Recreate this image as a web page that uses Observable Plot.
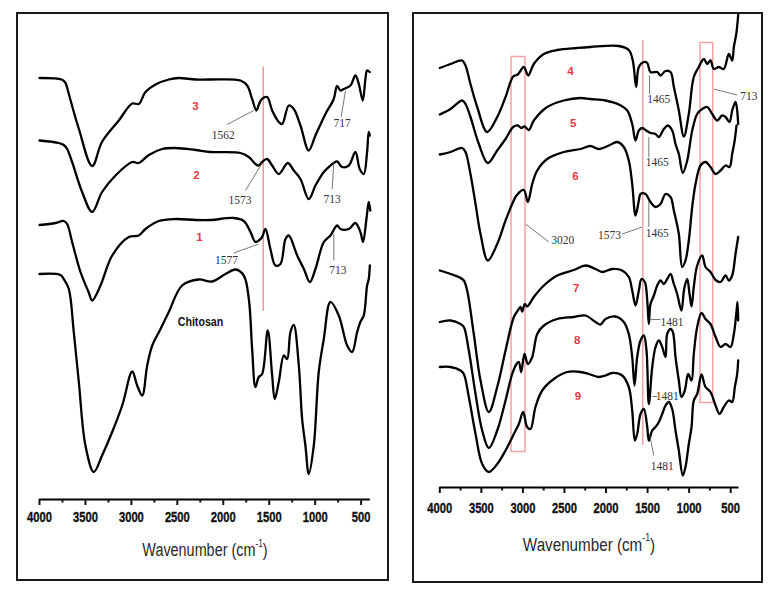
<!DOCTYPE html>
<html>
<head>
<meta charset="utf-8">
<script src="https://cdn.jsdelivr.net/npm/d3@7"></script>
<script src="https://cdn.jsdelivr.net/npm/@observablehq/plot@0.6"></script>
<style>
  body { margin: 0; background: #fff; }
  #page { position: relative; width: 778px; height: 595px; overflow: hidden; background: #fff; }
  .box { position: absolute; border: 2px solid #1a1a1a; box-sizing: border-box; }
  .plot { position: absolute; }
  .xtitle { position: absolute; font-family: 'Liberation Sans', Arial, sans-serif; color: #2a2a2a;
            white-space: nowrap; transform: translate(-50%, -50%) scaleX(0.8); }
  .xtitle sup { font-size: 58%; position: relative; top: -0.2em; vertical-align: super; line-height: 0; }
</style>
</head>
<body>
<div id="page">
  <div class="box" style="left:16px;top:12px;width:373px;height:569px;"></div>
  <div class="box" style="left:412px;top:12px;width:351px;height:571px;"></div>
  <div class="plot" id="left" style="left:17px;top:13px;"></div>
  <div class="plot" id="right" style="left:413px;top:13px;"></div>
  <div class="xtitle" style="left:205px;top:550px;font-size:18px;">Wavenumber (cm<sup>-1</sup>)</div>
  <div class="xtitle" style="left:589px;top:545px;font-size:19px;">Wavenumber (cm<sup>-1</sup>)</div>
</div>
<script>
// ---------- axis ticks ----------
const ticksMajor = [4000, 3500, 3000, 2500, 2000, 1500, 1000, 500];
const ticksMinor = [3750, 3250, 2750, 2250, 1750, 1250, 750];

// ---------- left panel spectra: [wavenumber, transmittance (a.u., offset)] ----------
const s3 = [[4000,84.3],[3760,84.0],[3720,83.4],[3700,82.4],[3685,81.4],[3573,74.2],[3427,66.7],[3320,71.5],[3137,75.8],[2991,79.2],[2920,79.1],[2847,81.5],[2738,83],[2593,84],[2487,84.3],[2302,84],[2140,84],[1813,83.8],[1740,82.8],[1686,80.1],[1640,77.8],[1610,79.1],[1580,80.1],[1523,80.5],[1468,77.8],[1396,75.5],[1359,75.1],[1287,78.8],[1233,78.1],[1160,74.8],[1070,69.8],[997,72.8],[888,77.1],[798,80.1],[761,82.7],[725,81.8],[689,82.1],[616,82.8],[562,84.8],[525,83.1],[482,79.8],[453,84.1],[435,85.8],[406,85.5]];
const s2 = [[4000,71.8],[3790,71.3],[3736,70.9],[3699,70.1],[3645,67.5],[3536,61.5],[3427,57.5],[3319,61.5],[3173,64.8],[2991,67.5],[2920,67.3],[2810,68.9],[2665,70.1],[2520,70.3],[2303,69.9],[2140,69.5],[1813,69.3],[1722,68.5],[1650,67.1],[1614,66.8],[1577,67.5],[1523,68.1],[1468,66.8],[1396,65.1],[1298,67.3],[1233,65.8],[1160,64.1],[1070,60.1],[997,62.8],[906,65.5],[834,66.8],[798,67.3],[761,67.6],[706,66.5],[634,66.8],[562,69.5],[515,66.1],[471,65.1],[435,69.5],[417,73.5],[406,72.8]];
const s1 = [[4000,54.9],[3826,55.3],[3736,55.7],[3699,55.1],[3645,51.5],[3554,45.5],[3464,41.4],[3427,39.8],[3336,42.8],[3209,48.8],[3028,52.5],[2920,52.8],[2847,54.1],[2702,55.7],[2520,56.1],[2303,55.9],[2140,55.9],[1886,56.3],[1777,55.7],[1704,53.5],[1650,51.5],[1614,51.8],[1577,52.5],[1541,54.1],[1487,50.1],[1432,46.8],[1378,47.1],[1323,52.1],[1287,52.8],[1196,48.8],[1123,46.1],[1058,43.5],[997,46.1],[906,51.5],[834,52.8],[761,54.8],[725,54.1],[634,54.1],[562,55.3],[508,53.5],[479,51.5],[442,56.1],[417,59.5],[400,57.8]];
const chitosan = [[4000,45.1],[3772,44.9],[3736,44.1],[3681,42.1],[3627,33.5],[3572,23.5],[3500,10.8],[3409,5.5],[3319,8.8],[3209,13.5],[3100,18.8],[2991,25.6],[2937,22.8],[2882,20.8],[2828,26.8],[2773,30.8],[2683,34.1],[2593,37.5],[2448,42.8],[2267,44],[2122,43.6],[1976,45.1],[1867,46],[1777,44.8],[1722,40.1],[1686,30.1],[1650,22.5],[1614,24.5],[1577,25.1],[1516,33.8],[1468,24.8],[1440,20.1],[1396,23.5],[1341,28.8],[1305,28.1],[1269,33.5],[1233,34.9],[1178,26.8],[1142,16.1],[1106,10.8],[1070,5.1],[1015,10.8],[961,25.5],[906,32.1],[834,39.5],[743,36.8],[652,30.8],[598,29.5],[543,33.5],[508,35.5],[471,36.8],[435,42.8],[417,44.1],[405,46.8]];

// ---------- right panel spectra ----------
const s4 = [[4000,83.9],[3871,84.7],[3731,85.4],[3691,84.4],[3631,80.7],[3550,76.1],[3430,71.1],[3309,74.1],[3209,78.1],[3117,82.2],[3061,82.6],[2989,84.1],[2936,82.4],[2869,84.7],[2748,86.7],[2587,87.5],[2347,87.9],[2187,88.1],[1846,88.3],[1726,87.5],[1678,85.4],[1637,80.1],[1605,84.1],[1545,85.1],[1504,84.9],[1465,83.1],[1384,83.1],[1344,82.4],[1284,83.3],[1224,83.1],[1184,80.1],[1124,75.4],[1064,70.2],[1004,74.7],[944,82.1],[884,84.1],[823,85.7],[783,84.7],[743,85.4],[703,83.7],[643,84.1],[583,83.7],[522,86.7],[482,85.4],[462,88.1],[433,90.7],[409,94.6]];
const s5 = [[4000,74.6],[3871,75.7],[3731,77.4],[3691,76.7],[3631,74.1],[3530,68.7],[3422,64.9],[3309,67.4],[3209,69.7],[3117,72.1],[3061,72.4],[3021,71.9],[2981,72.2],[2929,71.5],[2869,73.4],[2708,76.1],[2508,77.4],[2307,77.9],[2187,77.7],[2006,77.4],[1846,76.6],[1745,75.4],[1685,72.7],[1645,69.4],[1605,71.4],[1565,71.9],[1525,71.5],[1465,70.9],[1404,70.7],[1364,70.1],[1304,71.7],[1256,72.4],[1204,71.4],[1164,68.7],[1124,66.7],[1076,62.9],[1023,65.4],[963,71.4],[903,74.7],[843,75.7],[783,76.1],[722,74.7],[662,73.4],[602,74.4],[562,74.1],[514,73.1],[482,75.4],[442,77.1],[422,75.4],[410,72.7]];
const s6 = [[4000,66.6],[3871,67.1],[3731,67.9],[3691,67.1],[3631,62.7],[3570,56.7],[3510,50.7],[3422,45.4],[3309,48.7],[3209,53.4],[3129,56.7],[3077,58.4],[2989,59.5],[2941,57.1],[2888,60.7],[2828,63.4],[2708,65.7],[2508,67.1],[2307,67.7],[2187,68.3],[2087,67.7],[1966,68.4],[1866,69.1],[1786,68.1],[1726,65.4],[1685,60.7],[1645,54.4],[1605,57.4],[1585,58.7],[1525,58.7],[1465,57.1],[1404,56.1],[1344,56.7],[1284,58.7],[1224,58.1],[1184,55.4],[1124,50.7],[1084,44.1],[1044,45.4],[1004,49.4],[963,56.1],[923,60.7],[863,64.4],[803,65.1],[743,64.1],[682,62.7],[622,63.4],[562,64.4],[514,64.1],[482,66.7],[452,69.4],[430,72.4]];
const s7 = [[4000,43.4],[3871,42.7],[3771,42.1],[3711,41.4],[3671,39.4],[3591,30.7],[3510,21.4],[3410,15.1],[3309,20.1],[3209,27.4],[3109,34.1],[3061,35.4],[3029,36.1],[3009,35.2],[2977,36.7],[2949,36.2],[2869,38.1],[2748,40.4],[2587,42.4],[2387,43.5],[2247,44.4],[2126,43.7],[2046,43.1],[1926,43.7],[1806,43.4],[1726,42.1],[1685,39.4],[1645,36.4],[1605,39.4],[1573,41.7],[1533,41.1],[1504,37.4],[1485,32.7],[1465,36.7],[1424,38.4],[1384,40.4],[1344,41.4],[1304,40.7],[1264,41.7],[1224,42.7],[1184,40.7],[1144,38.7],[1092,35.4],[1060,39.7],[1023,41.7],[995,38.7],[971,36.2],[944,40.1],[903,44.4],[843,46.4],[803,44.1],[743,43.1],[682,41.5],[622,41.1],[562,42.4],[522,41.4],[482,42.4],[442,46.7],[410,50.1]];
const s8 = [[4000,33.1],[3871,33.4],[3751,32.7],[3711,32.1],[3651,27.4],[3570,18.7],[3490,11.4],[3410,7.9],[3309,11.4],[3209,17.4],[3129,22.7],[3077,24.7],[3049,25.1],[3021,23.1],[2981,26.7],[2941,24.7],[2888,26.1],[2828,30.7],[2748,32.4],[2587,33.7],[2387,34.1],[2247,34.4],[2126,33.1],[2066,32.6],[2006,33.7],[1886,34.2],[1786,33.1],[1726,30.7],[1685,26.1],[1657,20.4],[1625,26.1],[1585,29.4],[1545,30.4],[1513,27.4],[1485,16.7],[1444,24.1],[1404,28.1],[1364,29.4],[1324,28.1],[1284,26.1],[1264,30.7],[1224,31.7],[1196,31.1],[1164,26.1],[1124,21.4],[1092,18.1],[1052,19.4],[1012,22.7],[971,21.4],[944,26.7],[903,32.1],[851,34.9],[803,33.7],[743,32.7],[682,30.1],[622,28.1],[562,28.7],[502,28.1],[462,30.7],[433,34.7],[418,37.1],[410,33.4]];
const s9 = [[4000,24.1],[3871,24.1],[3751,23.4],[3711,22.7],[3651,18.1],[3570,10.7],[3490,4.7],[3410,3.1],[3309,4.7],[3209,7.4],[3109,10.7],[3049,12.7],[2997,15.1],[2949,12.1],[2909,11.7],[2849,16.1],[2768,19.4],[2628,21.7],[2467,23.1],[2307,23.1],[2207,22.7],[2087,22.1],[2006,22.4],[1926,22.9],[1806,22.4],[1726,20.1],[1685,15.4],[1653,9.4],[1625,10.7],[1585,14.7],[1545,15.7],[1504,12.1],[1485,9.4],[1444,11.4],[1404,12.1],[1364,13.1],[1324,14.7],[1284,16.4],[1244,17.1],[1204,15.7],[1164,11.4],[1124,7.4],[1076,2.4],[1044,4.1],[1004,8.7],[971,12.1],[944,17.4],[903,18.7],[851,22.6],[803,20.1],[743,19.1],[682,16.4],[634,14.7],[583,16.1],[522,17.4],[482,17.1],[450,20.1],[422,22.7],[410,25.4]];

// ---------- annotations ----------
const leftNumbers = [{wn:2303,t:78.6,label:"3"},{wn:2292,t:64.8,label:"2"},{wn:2259,t:52.4,label:"1"}];
const leftName = [{wn:2248,t:35.5,label:"Chitosan"}];
const leftNotes = [{wn:2000,t:72.8,label:"1562"},{wn:707,t:75.3,label:"717"},{wn:1817,t:59.8,label:"1573"},{wn:815,t:60.1,label:"713"},{wn:1966,t:47.8,label:"1577"},{wn:754,t:45.9,label:"713"}];
const leftLeaders = [{a:1958,ta:75,b:1668,tb:77.8},{a:717,ta:76.5,b:670,tb:81.8},{a:1758,ta:61.8,b:1577,tb:67.3},{a:815,ta:62.1,b:797,tb:67.5},{a:1886,ta:49.3,b:1614,tb:51.1},{a:797,ta:47.8,b:797,tb:53.1}];
const leftRedLines = [{wn:1566,lo:37.6,hi:86.5}];

const rightNumbers = [{wn:2427,t:83.2,label:"4"},{wn:2395,t:72.9,label:"5"},{wn:2367,t:62.3,label:"6"},{wn:2359,t:39.9,label:"7"},{wn:2347,t:29.4,label:"8"},{wn:2339,t:18.2,label:"9"}];
const rightNotes = [{wn:1366,t:77.7,label:"1465"},{wn:282,t:78.3,label:"713"},{wn:1384,t:65.1,label:"1465"},{wn:2520,t:49.5,label:"3020"},{wn:1958,t:50.5,label:"1573"},{wn:1384,t:50.9,label:"1465"},{wn:1205,t:33.1,label:"1481"},{wn:1264,t:18.2,label:"1481"},{wn:1324,t:4.2,label:"1481"}];
const rightLeaders = [{a:1477,ta:82.4,b:1477,tb:78.7},{a:703,ta:79.7,b:421,tb:78.5},{a:1485,ta:70.1,b:1485,tb:66.1},{a:2969,ta:52.7,b:2688,tb:49.1},{a:1806,ta:50.7,b:1565,tb:52.1},{a:1485,ta:57.4,b:1485,tb:52.1},{a:1465,ta:33.6,b:1346,tb:33.6},{a:1444,ta:18.2,b:1384,tb:18.2},{a:1477,ta:10.7,b:1425,tb:6.4}];
const rightRedLines = [{wn:1558,lo:8.4,hi:89.4}];
const rightBoxes = [{x1:3137,x2:2969,y1:7.1,y2:86.1},{x1:863,x2:710,y1:16.9,y2:88.9}];

// ---------- helpers ----------
const tag = (arr, id) => arr.map(([wn, t]) => ({wn, t, id}));
const SANS = "'Liberation Sans', Arial, sans-serif";
const SERIF = "'Liberation Serif', 'Times New Roman', serif";
const RED = "#e23a3f";

function squeeze(t, factor) {
  const tr = t.getAttribute("transform");
  if (tr && /translate/.test(tr)) {
    t.setAttribute("transform", tr + ` scale(${factor},1)`);
  } else {
    const x0 = +(t.getAttribute("x") || 0);
    t.setAttribute("transform", `translate(${(1 - factor) * x0},0) scale(${factor},1)`);
  }
}

function panel({width, height, marginLeft, marginRight, marginBottom, ymax, data, numbers, notes, leaders, redLines, boxes, name, tickPadding}) {
  const marks = [];
  if (boxes) marks.push(Plot.rect(boxes, {x1:"x1", x2:"x2", y1:"y1", y2:"y2", fill:"none", stroke:"#f0a3a3", strokeWidth:1.5}));
  marks.push(Plot.ruleX(redLines, {x:"wn", y1:"lo", y2:"hi", stroke: boxes ? "#f0a3a3" : "#e06868", strokeWidth: boxes ? 1.5 : 1}));
  marks.push(Plot.line(data, {x:"wn", y:"t", z:"id", stroke:"#000", strokeWidth:2.3, curve:"catmull-rom", strokeLinejoin:"round"}));
  marks.push(Plot.link(leaders, {x1:"a", y1:"ta", x2:"b", y2:"tb", stroke:"#555", strokeWidth:0.8}));
  marks.push(Plot.text(notes, {x:"wn", y:"t", text:"label", fontFamily:SERIF, fontSize:11.5, fill:"#333"}));
  marks.push(Plot.text(numbers, {x:"wn", y:"t", text:"label", fontFamily:SANS, fontSize:11.5, fontWeight:"bold", fill:RED}));
  if (name) marks.push(Plot.text(name, {x:"wn", y:"t", text:"label", fontFamily:SANS, fontSize:13, fontWeight:"bold", fill:"#111"}));
  marks.push(Plot.ruleY([0], {stroke:"#000", strokeWidth:2}));
  marks.push(Plot.axisX({ticks: ticksMajor, tickSize: 6, tickPadding, tickFormat: d => String(d), label: null,
    fontFamily: SANS, fontSize: 14, fontWeight: "bold", strokeWidth: 2, color: "#111"}));
  marks.push(Plot.axisX({ticks: ticksMinor, tickSize: 3.5, tickFormat: () => "", label: null, strokeWidth: 2, color: "#111"}));
  const svg = Plot.plot({
    width, height, marginLeft, marginRight, marginTop: 0, marginBottom,
    x: {domain: [4000, 400]},
    y: {domain: [0, ymax], axis: null},
    style: {background: "transparent", overflow: "visible", fontFamily: SANS},
    marks
  });
  const tickTexts = new Set(ticksMajor.map(String));
  svg.querySelectorAll("text").forEach(t => {
    const inNotes = (t.closest("g") && (t.closest("g").getAttribute("font-family") || "").includes("Serif"));
    if (tickTexts.has(t.textContent) && !inNotes && !t.closest("g[font-family*='Serif']")) {
      t.style.fontWeight = "bold";
      t.style.fontSize = "14px";
      t.style.fontFamily = SANS;
      t.style.fill = "#111";
      t.style.stroke = "#111";
      t.style.strokeWidth = "0.35px";
      squeeze(t, 0.8);
    } else if (t.textContent === "Chitosan") {
      squeeze(t, 0.82);
    }
  });
  return svg;
}

const leftData = [...tag(s3, "3"), ...tag(s2, "2"), ...tag(s1, "1"), ...tag(chitosan, "chitosan")];
const rightData = [...tag(s4, "4"), ...tag(s5, "5"), ...tag(s6, "6"), ...tag(s7, "7"), ...tag(s8, "8"), ...tag(s9, "9")];

document.getElementById("left").append(panel({
  width: 371, height: 567, marginLeft: 22, marginRight: 18.2, marginBottom: 81, ymax: 97.2,
  data: leftData, numbers: leftNumbers, notes: leftNotes, leaders: leftLeaders, redLines: leftRedLines,
  name: leftName, tickPadding: 7
}));
document.getElementById("right").append(panel({
  width: 349, height: 569, marginLeft: 26.3, marginRight: 23.5, marginBottom: 95, ymax: 94.8,
  data: rightData, numbers: rightNumbers, notes: rightNotes, leaders: rightLeaders, redLines: rightRedLines,
  boxes: rightBoxes, tickPadding: 10
}));
</script>
</body>
</html>
